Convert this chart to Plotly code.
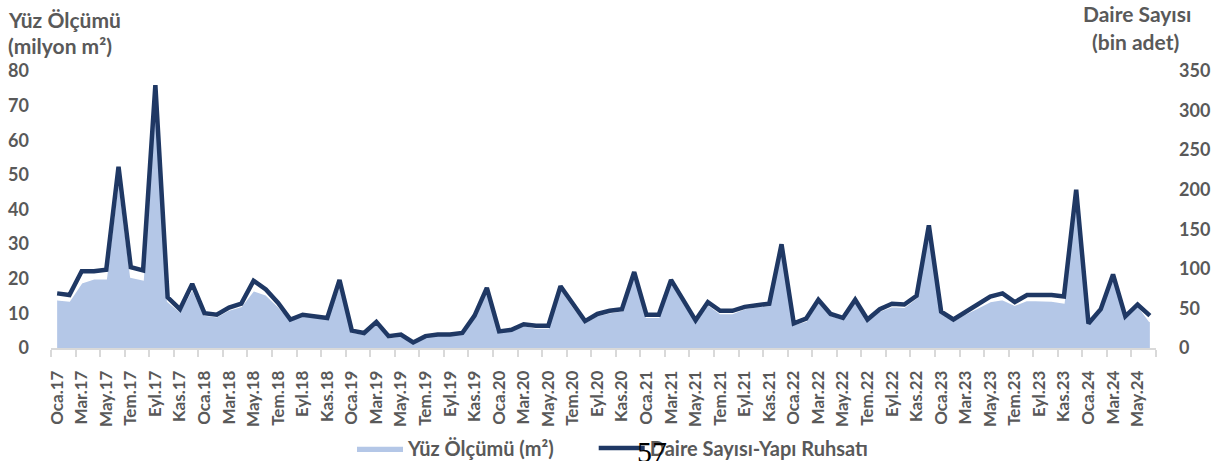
import plotly.graph_objects as go

month_names = ["Oca", "Şub", "Mar", "Nis", "May", "Haz", "Tem", "Ağu", "Eyl", "Eki", "Kas", "Ara"]
years = ["17", "18", "19", "20", "21", "22", "23", "24"]
months = [f"{m}.{y}" for y in years for m in month_names][:90]

# Yüz ölçümü (milyon m²) - left axis (area)
yuz_olcumu = [13.9, 13.6, 18.8, 20.0, 20.0, 49.0, 20.5, 19.7, 73.0, 13.5,
              10.5, 17.0, 9.5, 9.0, 11.0, 12.0, 16.6, 15.4, 12.0, 8.0,
              9.3, 9.0, 8.5, 18.0, 4.6, 4.0, 7.0, 3.0, 3.5, 1.5,
              3.2, 3.8, 3.8, 4.2, 9.0, 16.8, 4.6, 5.1, 6.6, 5.8,
              5.8, 17.2, 12.0, 7.3, 9.4, 10.2, 10.8, 21.5, 8.9, 8.9,
              19.0, 13.2, 7.6, 12.6, 10.0, 10.0, 11.4, 11.9, 12.3, 29.5,
              6.8, 7.8, 13.4, 9.4, 8.3, 13.5, 7.8, 10.7, 12.0, 11.8,
              14.5, 34.5, 10.2, 7.8, 9.9, 11.6, 13.4, 14.0, 12.4, 13.8,
              13.8, 13.6, 13.0, 44.5, 6.9, 10.8, 20.8, 8.9, 12.3, 7.6]

# Daire sayısı - yapı ruhsatı (bin adet) - right axis (line)
daire_sayisi = [69, 67, 97, 97, 99, 229, 102, 98, 332, 64,
                49, 81, 44, 42, 51, 56, 85, 74, 57, 36,
                42, 40, 38, 86, 22, 19, 33, 15, 17, 7,
                15, 17, 17, 19, 41, 76, 21, 23, 30, 28,
                28, 78, 56, 34, 43, 47, 49, 96, 42, 42,
                86, 60, 35, 58, 47, 47, 52, 54, 56, 131,
                31, 37, 61, 43, 38, 61, 36, 49, 56, 55,
                66, 155, 46, 36, 46, 55, 65, 69, 58, 67,
                67, 67, 65, 200, 31, 49, 93, 40, 55, 41]

left_ticks = [0, 10, 20, 30, 40, 50, 60, 70, 80]
right_ticks = [0, 50, 100, 150, 200, 250, 300, 350]

x = list(range(len(months)))
label_idx = x[::2]
label_text = [months[i] for i in label_idx]
tick_marks = [i - 0.5 for i in range(0, len(months) + 1, 2)]

GRAY = "#595959"
FONT = "Lato"
NBSP = "\u00a0"

fig = go.Figure()
fig.add_trace(go.Scatter(
    x=x, y=yuz_olcumu, name="Yüz Ölçümü (m²)" + NBSP * 7, mode="lines",
    fill="tozeroy", fillcolor="#B4C7E7",
    line=dict(color="white", width=1.5), yaxis="y",
))
fig.add_trace(go.Scatter(
    x=x, y=daire_sayisi, name="Daire Sayısı-Yapı Ruhsatı", mode="lines",
    line=dict(color="#1F3864", width=4.5), yaxis="y2",
))

fig.update_layout(
    width=1230, height=461,
    margin=dict(l=51, r=74, t=71, b=113, autoexpand=False),
    plot_bgcolor="white", paper_bgcolor="white",
    showlegend=True,
    legend=dict(orientation="h", x=(352-51)/1105, xanchor="left", y=-0.361, yanchor="middle",
                font=dict(family=FONT, size=20, color=GRAY, weight="bold"),
                itemwidth=46, bgcolor="rgba(0,0,0,0)"),
    xaxis=dict(
        range=[-0.5, len(months) - 0.5], automargin=False,
        tickmode="array", tickvals=label_idx, ticktext=label_text,
        tickangle=-90, ticks="", ticklabelstandoff=14,
        tickfont=dict(family=FONT, size=17, color=GRAY, weight="bold"),
        showline=True, linecolor="#D9D9D9", linewidth=1.5,
        showgrid=False, zeroline=False,
        minor=dict(tickmode="array", tickvals=tick_marks, ticks="outside",
                   ticklen=7, tickcolor="#D9D9D9", tickwidth=1.5, showgrid=False),
    ),
    yaxis=dict(
        range=[0, 80], tickmode="array", tickvals=left_ticks, automargin=False,
        showgrid=False, zeroline=False, showline=False, ticks="",
        ticklabelstandoff=21,
        tickfont=dict(family=FONT, size=18, color=GRAY, weight="bold"),
    ),
    yaxis2=dict(
        range=[0, 350], tickmode="array", tickvals=right_ticks, automargin=False,
        overlaying="y", side="right",
        showgrid=False, zeroline=False, showline=False, ticks="",
        ticklabelstandoff=22,
        tickfont=dict(family=FONT, size=18, color=GRAY, weight="bold"),
    ),
)

title_font = dict(family=FONT, size=21, color=GRAY, weight="bold")
fig.add_annotation(text="Yüz Ölçümü", xref="paper", yref="paper", x=-45/1105, y=1 + (71-19)/277,
                   xanchor="left", yanchor="middle", showarrow=False, font=title_font)
fig.add_annotation(text="(milyon m²)", xref="paper", yref="paper", x=-45/1105, y=1 + (71-45)/277,
                   xanchor="left", yanchor="middle", showarrow=False, font=title_font)
fig.add_annotation(text="Daire Sayısı", xref="paper", yref="paper", x=(1137-51)/1105, y=1 + (71-14)/277,
                   xanchor="center", yanchor="middle", showarrow=False, font=title_font)
fig.add_annotation(text="(bin adet)", xref="paper", yref="paper", x=(1135-51)/1105, y=1 + (71-41)/277,
                   xanchor="center", yanchor="middle", showarrow=False, font=title_font)
fig.add_annotation(text="57", xref="paper", yref="paper", x=(652-51)/1105, y=(348-451)/277,
                   xanchor="center", yanchor="middle", showarrow=False,
                   font=dict(family="Liberation Serif", size=30, color="black"))

fig.write_html("out.html", config={"displayModeBar": False},
               post_script="document.body.style.margin='0px';")
